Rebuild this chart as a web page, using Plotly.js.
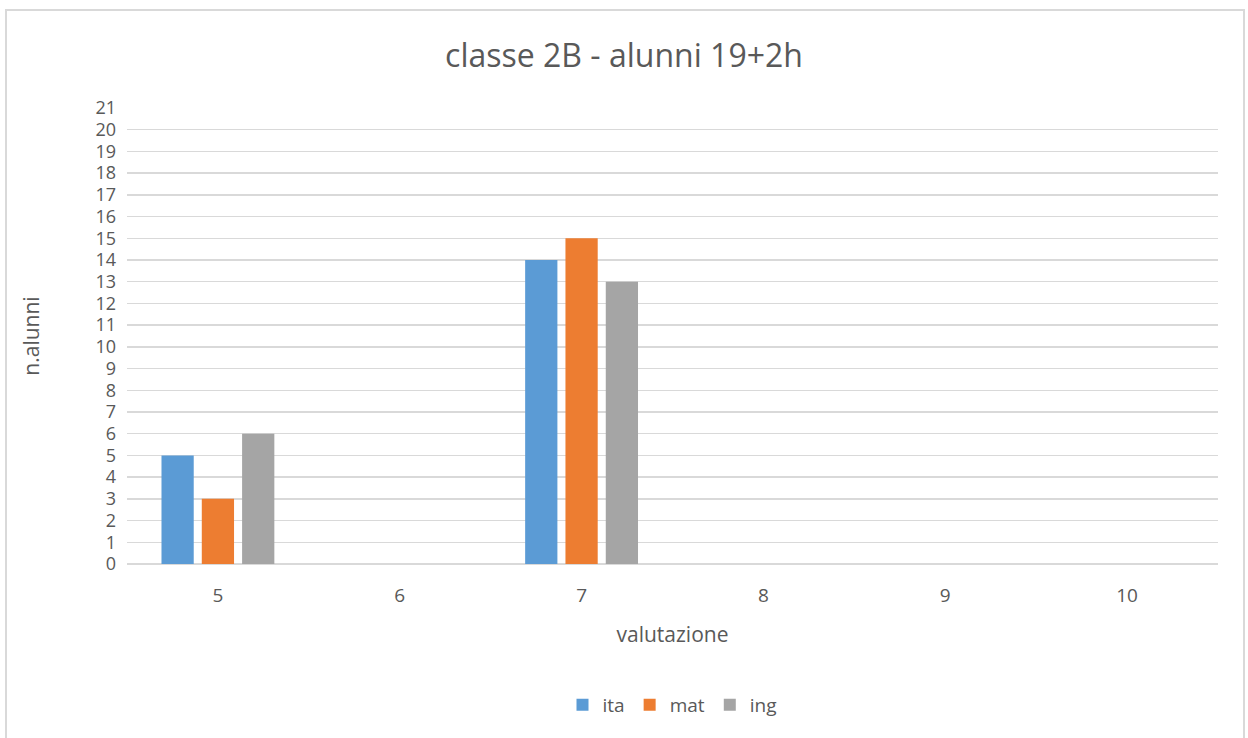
<!DOCTYPE html>
<html><head><meta charset="utf-8">
<script src="https://cdn.plot.ly/plotly-3.0.1.min.js"></script>
<style>
html,body{margin:0;padding:0;background:#fff;overflow:hidden;}
#frame{position:absolute;left:5px;top:9px;width:1240px;height:740px;border:2px solid #d9d9d9;box-sizing:border-box;pointer-events:none;z-index:2;}
#chart{position:absolute;left:0;top:0;width:1248px;height:738px;}
</style></head>
<body>
<div id="chart"></div>
<div id="frame"></div>
<script>
const categories = ["5","6","7","8","9","10"];
const ita = [5,0,14,0,0,0];
const mat = [3,0,15,0,0,0];
const ing = [6,0,13,0,0,0];
const yTicks = [0,1,2,3,4,5,6,7,8,9,10,11,12,13,14,15,16,17,18,19,20,21];

const font = "Open Sans, Noto Sans, Liberation Sans, sans-serif";
const grey = "#595959";
const traces = [
  {type:"bar", name:"ita", x:categories, y:ita, marker:{color:"#5B9BD5"}},
  {type:"bar", name:"mat", x:categories, y:mat, marker:{color:"#ED7D31"}},
  {type:"bar", name:"ing", x:categories, y:ing, marker:{color:"#A5A5A5"}}
];
const layout = {
  width:1248, height:738,
  margin:{l:127, r:30, t:108, b:174},
  paper_bgcolor:"#fff", plot_bgcolor:"#fff",
  font:{family:font, color:grey, size:18},
  title:{text:"classe 2B - alunni 19+2h", x:0.5, xanchor:"center", y:0.924, yanchor:"middle", font:{size:32, color:grey, family:font}},
  barmode:"group", bargap:0.335, bargroupgap:0.2,
  xaxis:{type:"category", showgrid:false, zeroline:false, showline:false, ticks:"", ticklabelstandoff:18,
    tickfont:{size:19, color:grey}, title:{text:"valutazione", font:{size:21, color:grey}, standoff:20}},
  yaxis:{range:[0,21], tickvals:yTicks, ticktext:yTicks.map(String), showgrid:true, gridcolor:"#d9d9d9", gridwidth:1.3,
    zeroline:true, zerolinecolor:"#d9d9d9", zerolinewidth:1.3, showline:false, ticks:"", ticklabelstandoff:10,
    tickfont:{size:18, color:grey}, title:{text:"n.alunni", font:{size:21, color:grey}, standoff:50}},
  showlegend:true,
  legend:{orientation:"h", x:0.5, xanchor:"center", y:-0.309, yanchor:"middle", font:{size:19, color:grey}, itemwidth:20, traceorder:"normal"}
};
Plotly.newPlot("chart", traces, layout, {displayModeBar:false, staticPlot:true});
</script>
</body></html>
